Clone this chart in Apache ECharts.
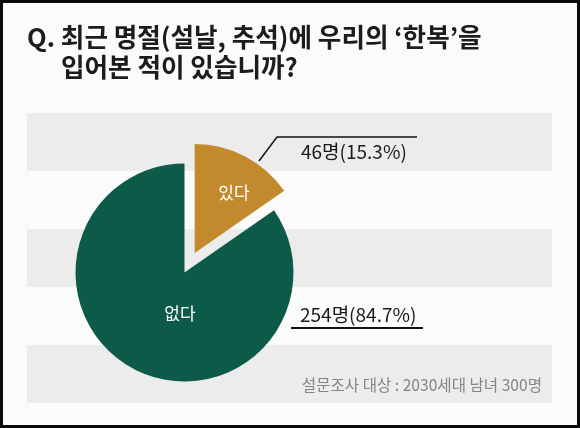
<!DOCTYPE html>
<html><head><meta charset="utf-8">
<script src="https://cdn.jsdelivr.net/npm/echarts@6/dist/echarts.min.js"></script>
<style>
html,body{margin:0;padding:0;background:#fbfbfb;}
#c{width:580px;height:428px;position:relative;}
#frame{position:absolute;left:0;top:0;width:580px;height:428px;box-sizing:border-box;border:3px solid #0a0a0a;pointer-events:none;}
</style></head>
<body>
<div id="c"></div><div id="frame"></div>
<script>
const titleLine1 = 'Q. 최근 명절(설날, 추석)에 우리의 ‘한복’을';
const titleLine2 = '입어본 적이 있습니까?';
const categories = ['있다', '없다'];
const counts = [46, 254];
const unit = '명';
const colors = ['#c38a2d', '#0c5a48'];
const note = '설문조사 대상 : 2030세대 남녀 300명';

const FONT = '"Noto Sans CJK KR", "Noto Sans", sans-serif';
const chart = echarts.init(document.getElementById('c'), null, {renderer: 'canvas'});

// pie geometry
const CX = 184.5, CY = 272.5, R = 109, EXPLODE = 22;
const total = counts.reduce((a, b) => a + b, 0);
const midDeg = 90 - (counts[0] / total) * 180;          // bisector of the exploded slice
const gx = CX + EXPLODE * Math.cos(midDeg * Math.PI / 180);
const gy = CY - EXPLODE * Math.sin(midDeg * Math.PI / 180);

const pieBase = {
  type: 'pie', radius: R, startAngle: 90, clockwise: true,
  percentPrecision: 1, silent: true, avoidLabelOverlap: false
};
const hidden = {itemStyle: {color: 'transparent'}, label: {show: false}, labelLine: {show: false}};

const insideLabel = {show: true, position: 'inside', formatter: '{b}', color: '#ffffff',
  fontFamily: FONT, fontSize: 17};
const insideLayout = [
  {x: 234, y: 193, align: 'center', verticalAlign: 'middle'},
  {x: 180, y: 314, align: 'center', verticalAlign: 'middle'}
];

chart.setOption({
  animation: false,
  backgroundColor: '#fbfbfb',
  title: [
    {text: titleLine1, left: 27, top: 24, padding: 0,
      textStyle: {fontFamily: FONT, fontSize: 25.6, fontWeight: 'bold', color: '#1c1c1c'}},
    {text: titleLine2, left: 61, top: 54, padding: 0,
      textStyle: {fontFamily: FONT, fontSize: 25.6, fontWeight: 'bold', color: '#1c1c1c'}},
    {text: note, right: 38, top: 377, padding: 0,
      textStyle: {fontFamily: FONT, fontSize: 15.6, fontWeight: 'normal', color: '#858585'}}
  ],
  grid: {left: 27, right: 28, top: 113, bottom: 25},
  xAxis: {type: 'value', show: false},
  yAxis: {type: 'value', min: 0, max: 5, interval: 1,
    axisLine: {show: false}, axisTick: {show: false}, axisLabel: {show: false},
    splitLine: {show: false},
    splitArea: {show: true, areaStyle: {color: ['#ececec', '#fbfbfb']}}},
  series: [
    Object.assign({}, pieBase, {
      center: [gx, gy],
      data: categories.map((n, i) => i === 0
        ? {name: n, value: counts[i], itemStyle: {color: colors[i]}, label: insideLabel}
        : Object.assign({name: n, value: counts[i]}, hidden)),
      labelLayout: p => insideLayout[p.dataIndex]
    }),
    Object.assign({}, pieBase, {
      center: [CX, CY],
      data: categories.map((n, i) => i === 1
        ? {name: n, value: counts[i], itemStyle: {color: colors[i]}, label: insideLabel}
        : Object.assign({name: n, value: counts[i]}, hidden)),
      labelLayout: p => insideLayout[p.dataIndex]
    }),
    Object.assign({}, pieBase, {
      center: [CX, CY],
      data: categories.map((n, i) => ({name: n, value: counts[i],
        itemStyle: {color: 'transparent'},
        labelLine: {show: true, lineStyle: {color: '#111', width: i === 0 ? 1.5 : 2}}})),
      label: {show: true, position: 'outside', color: '#1a1a1a', fontFamily: FONT, fontSize: 19,
        formatter: p => p.value + unit + '(' + p.percent + '%)'},
      labelLayout: function (p) {
        return p.dataIndex === 0
          ? {x: 301, y: 152, align: 'left', verticalAlign: 'middle',
             labelLinePoints: [[259, 161], [277, 137], [417, 137]]}
          : {x: 300, y: 315, align: 'left', verticalAlign: 'middle',
             labelLinePoints: [[291, 328], [291, 328], [423, 328]]};
      }
    })
  ]
});
</script>
</body></html>
